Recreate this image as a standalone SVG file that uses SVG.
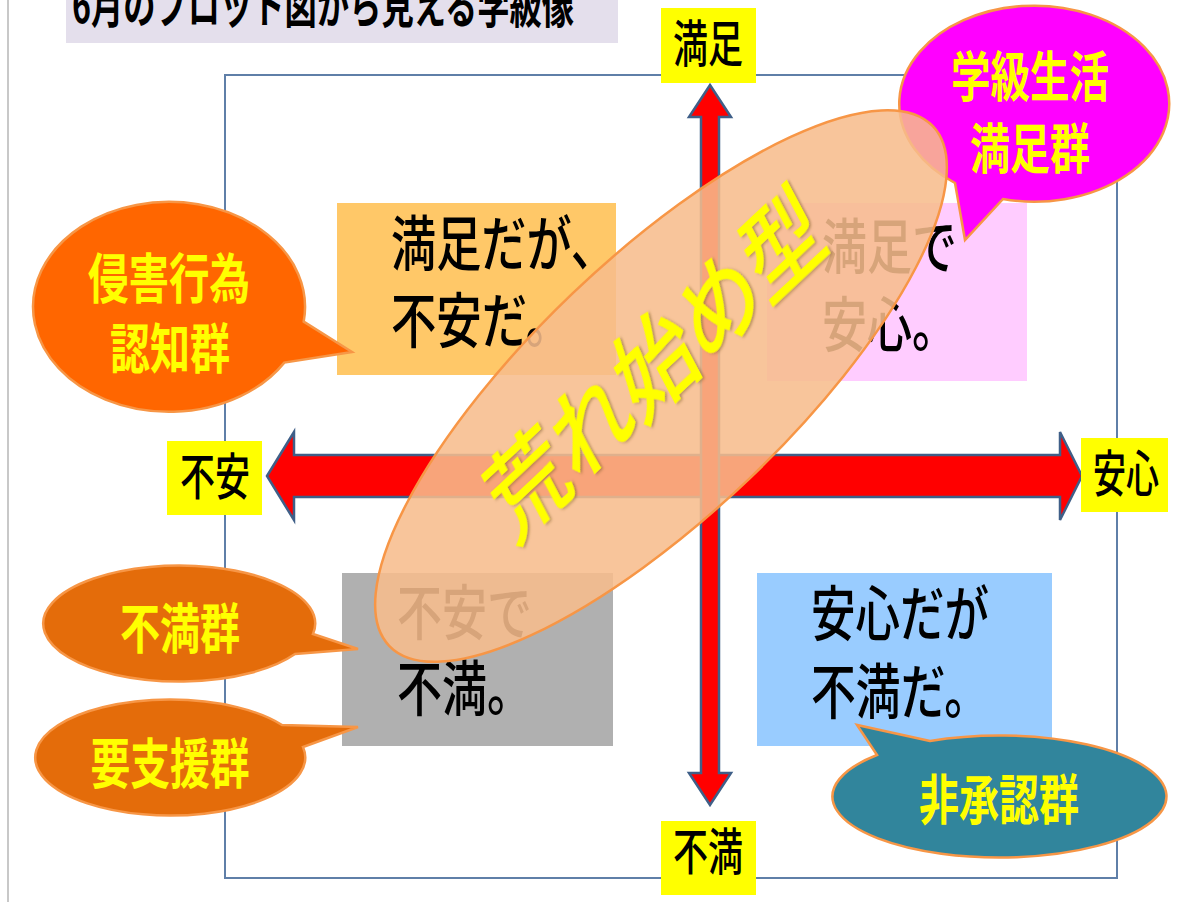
<svg xmlns="http://www.w3.org/2000/svg" width="1179" height="902" viewBox="0 0 1179 902">
<defs>
<style>
text{font-family:"Noto Sans CJK JP","Noto Sans CJK SC",sans-serif}
.q{font-size:60px;font-weight:500;fill:#000}
.ax{font-size:50px;font-weight:500;fill:#000;text-anchor:middle}
.bt{font-size:54px;font-weight:bold;fill:#FFFF00;text-anchor:middle}
.yb{fill:#FFFF00}
.bub{stroke:#F79646;stroke-width:2.5}
.arr{fill:#FF0000;stroke:#3F5F88;stroke-width:2.5;stroke-linejoin:miter}
</style>
<filter id="sh" x="-10%" y="-10%" width="120%" height="120%">
<feDropShadow dx="2" dy="2" stdDeviation="1.5" flood-color="#7a5a20" flood-opacity="0.5"/>
</filter>
</defs>
<rect width="1179" height="902" fill="#FFFFFF"/>
<line x1="8" y1="0" x2="8" y2="902" stroke="#C8C8C8" stroke-width="2"/>

<g id="title">
<rect x="66" y="0" width="552" height="43" fill="#E4DFEC"/>
<text x="72" y="23" font-size="48" font-weight="bold" fill="#000" textLength="502" lengthAdjust="spacingAndGlyphs">6月のプロット図から見える学級像</text>
</g>

<g id="frame">
<rect x="225" y="75" width="892" height="803" fill="none" stroke="#5F7FA8" stroke-width="2"/>
</g>

<g id="q-topleft">
<rect x="337" y="203" width="279" height="172" fill="#FFC868"/>
<text class="q" x="391" y="266" textLength="225" lengthAdjust="spacingAndGlyphs">満足だが、</text>
<text class="q" x="391" y="343" textLength="180" lengthAdjust="spacingAndGlyphs">不安だ。</text>
</g>

<g id="q-topright">
<rect x="767" y="203" width="260" height="178" fill="#FFCCFF"/>
<text class="q" x="822" y="269" textLength="135" lengthAdjust="spacingAndGlyphs">満足で</text>
<text class="q" x="822" y="347" textLength="135" lengthAdjust="spacingAndGlyphs">安心。</text>
</g>

<g id="q-bottomleft">
<rect x="342" y="573" width="271" height="173" fill="#B0B0B0"/>
<text class="q" x="397" y="635" textLength="135" lengthAdjust="spacingAndGlyphs">不安で</text>
<text class="q" x="397" y="711" textLength="135" lengthAdjust="spacingAndGlyphs">不満。</text>
</g>

<g id="q-bottomright">
<rect x="757" y="573" width="295" height="173" fill="#99CCFF"/>
<text class="q" x="811" y="636" textLength="178" lengthAdjust="spacingAndGlyphs">安心だが</text>
<text class="q" x="811" y="714" textLength="178" lengthAdjust="spacingAndGlyphs">不満だ。</text>
</g>

<g id="connectors">
<path class="arr" d="M267,476 L294,432 L294,455 L1060,455 L1060,432 L1082,476 L1060,520 L1060,497 L294,497 L294,520 Z"/>
<path class="arr" d="M710,85 L731,117 L719,117 L719,773 L731,773 L710,805 L689,773 L701,773 L701,117 L689,117 Z"/>
</g>

<g id="label-top">
<rect class="yb" x="661" y="8" width="95" height="75"/>
<text class="ax" x="708" y="62" textLength="70" lengthAdjust="spacingAndGlyphs">満足</text>
</g>
<g id="label-bottom">
<rect class="yb" x="661" y="821" width="95" height="74"/>
<text class="ax" x="708" y="870" textLength="70" lengthAdjust="spacingAndGlyphs">不満</text>
</g>
<g id="label-left">
<rect class="yb" x="167" y="441" width="95" height="74"/>
<text class="ax" x="215" y="495" textLength="70" lengthAdjust="spacingAndGlyphs">不安</text>
</g>
<g id="label-right">
<rect class="yb" x="1081" y="438" width="87" height="74"/>
<text class="ax" x="1126" y="492" textLength="66" lengthAdjust="spacingAndGlyphs">安心</text>
</g>

<g id="bubble-satisfied">
<path class="bub" fill="#FF00FF" d="M1003,199 A135,98 0 1 0 955,183 L965,240 Z"/>
<text class="bt" x="1030" y="97" textLength="158" lengthAdjust="spacingAndGlyphs">学級生活</text>
<text class="bt" x="1030" y="169" textLength="120" lengthAdjust="spacingAndGlyphs">満足群</text>
</g>

<g id="bubble-infringement">
<path class="bub" fill="#FF6600" d="M303.7,321.6 L352,352 L284.3,362.6 A136,105 0 1 1 303.7,321.6 Z"/>
<text class="bt" x="169" y="299" textLength="162" lengthAdjust="spacingAndGlyphs">侵害行為</text>
<text class="bt" x="170" y="369" textLength="120" lengthAdjust="spacingAndGlyphs">認知群</text>
</g>

<g id="bubble-dissatisfied">
<path class="bub" fill="#E46C0A" d="M313,634 L358,649 L295,654 A136,58 0 1 1 313,634 Z"/>
<text class="bt" x="180" y="649" textLength="120" lengthAdjust="spacingAndGlyphs">不満群</text>
</g>

<g id="bubble-support">
<path class="bub" fill="#E46C0A" d="M282,725 L358,727 L303,747 A135,58 0 1 1 282,725 Z"/>
<text class="bt" x="170" y="784" textLength="159" lengthAdjust="spacingAndGlyphs">要支援群</text>
</g>

<g id="bubble-nonapproval">
<path class="bub" fill="#31859C" d="M930,741 L857,725 L877,755 A167,61 0 1 0 930,741 Z"/>
<text class="bt" x="999" y="820" textLength="160" lengthAdjust="spacingAndGlyphs">非承認群</text>
</g>

<g id="rough-type">
<ellipse cx="661" cy="386" rx="376" ry="128" transform="rotate(-43.7 661 386)" fill="#F7BC8C" fill-opacity="0.87" stroke="#F79646" stroke-width="2.5"/>
<text transform="translate(652,358) scale(0.75,1) rotate(-35.2)" font-size="104" font-weight="500" fill="#FFFF00" text-anchor="middle" dominant-baseline="central" filter="url(#sh)">荒れ始め型</text>
</g>
</svg>
